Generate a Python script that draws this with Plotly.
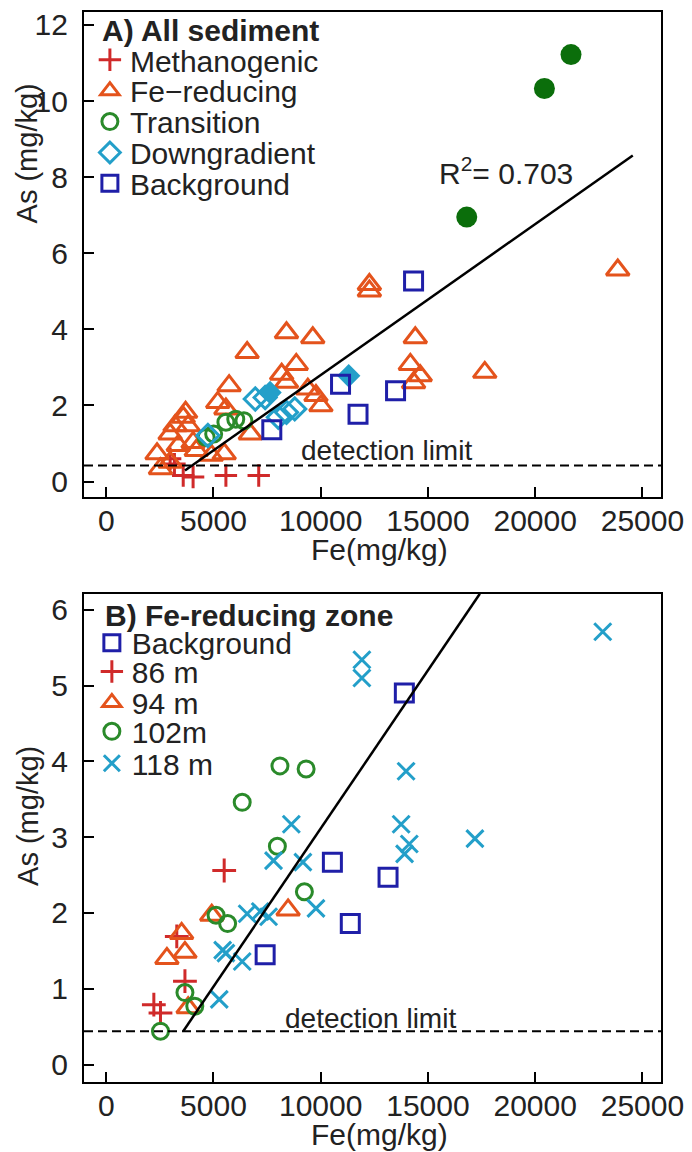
import plotly.graph_objects as go

# ---------------- Panel A: All sediment ----------------
meth_fe = [2980, 3180, 3590, 4050, 5580, 7110]
meth_as = [0.60, 0.46, 0.16, 0.12, 0.16, 0.16]

fered_fe = [12270, 12270, 14410, 14180, 14640, 14330, 17650, 23850, 8405, 9630,
            6570, 8860, 8180, 8405, 9400, 9780, 10010, 5730, 5200, 5580,
            3590, 3210, 3820, 2980, 6720, 2370, 4200, 5500, 2530, 3700,
            4050, 3360, 2980, 4900]
fered_as = [5.18, 5.01, 3.78, 3.08, 2.78, 2.60, 2.87, 5.56, 3.91, 3.78,
            3.39, 3.08, 2.82, 2.61, 2.43, 2.26, 1.99, 2.52, 2.08, 1.91,
            1.69, 1.47, 1.47, 1.25, 1.25, 0.73, 0.82, 0.73, 0.34, 1.82,
            1.03, 0.95, 0.51, 0.69]

trans_open_fe = [4660, 5010, 5580, 6040, 6420]
trans_open_as = [1.16, 1.25, 1.56, 1.64, 1.60]
trans_fill_fe = [16810, 20430, 21670]
trans_fill_as = [6.95, 10.33, 11.22]

down_open_fe = [4740, 6950, 7410, 8025, 8405, 8790]
down_open_as = [1.21, 2.17, 2.21, 1.69, 1.82, 1.91]
down_fill_fe = [7640, 11306]
down_fill_as = [2.34, 2.78]

bg_a_fe = [14330, 10925, 13490, 11740, 7720]
bg_a_as = [5.27, 2.56, 2.39, 1.77, 1.36]

fit_a_fe = [3670, 24550]
fit_a_as = [0.29, 8.57]
det_limit_a = 0.42
r2_label = "R<sup>2</sup>= 0.703"

# ---------------- Panel B: Fe-reducing zone ----------------
bg_b_fe = [13900, 10545, 13140, 11380, 7410]
bg_b_as = [4.90, 2.67, 2.47, 1.86, 1.45]

m86_fe = [5500, 3290, 3670, 2220, 2530]
m86_as = [2.56, 1.69, 1.10, 0.79, 0.68]

m94_fe = [4920, 8480, 3515, 2830, 3670, 3820]
m94_as = [1.97, 2.04, 1.73, 1.40, 1.48, 0.75]

m102_fe = [8100, 9320, 6340, 7980, 9240, 5120, 5660, 3670, 4130, 2530]
m102_as = [3.94, 3.90, 3.46, 2.88, 2.28, 1.97, 1.86, 0.95, 0.77, 0.44]

m118_fe = [8630, 7800, 9170, 7180, 7570, 9780, 6570, 5430, 5580, 6340, 5270,
           23150, 11920, 11920, 13980, 13750, 14130, 13910, 17190]
m118_as = [3.17, 2.69, 2.67, 2.02, 1.95, 2.06, 1.99, 1.51, 1.47, 1.36, 0.86,
           5.71, 5.34, 5.10, 3.87, 3.17, 2.91, 2.78, 2.98]

fit_b_fe = [3590, 17420]
fit_b_as = [0.44, 6.21]
det_limit_b = 0.44

x_ticks = [0, 5000, 10000, 15000, 20000, 25000]
ya_ticks = [0, 2, 4, 6, 8, 10, 12]
yb_ticks = [0, 1, 2, 3, 4, 5, 6]

# ---------------- styles ----------------
RED = "#d02a2a"
ORANGE = "#e4531c"
GREEN = "#2a8a2a"
DKGREEN = "#0b6e0b"
CYAN = "#239fc9"
BLUE = "#1f1fa8"
FONT = "Liberation Sans, Arial, Helvetica, sans-serif"

W, H = 692, 1152
ML, MR, MT, MB = 84, 21, 8, 70
PW = W - ML - MR
PH = H - MT - MB


def px(xp):
    return (xp - ML) / PW


def py(yp):
    return (H - MB - yp) / PH


fig = go.Figure()

leg_a_y = [56, 87, 118, 149, 180]
leg_b_y = [641, 670, 701, 730, 762]


def add(xs, ys, name, symbol, color, size, lw, legend=None, xa="x", ya="y"):
    mk = dict(symbol=symbol, size=size, color=color, line=dict(color=color, width=lw))
    fig.add_trace(go.Scatter(x=xs, y=ys, mode="markers", name=name, marker=mk,
                             xaxis=xa, yaxis=ya, showlegend=legend is not None,
                             legend=legend if legend else "legend", cliponaxis=False))


# Panel A
add(meth_fe, meth_as, "Methanogenic", "cross-thin", RED, 16, 3, "legend")
add(fered_fe, fered_as, "Fe\u2212reducing", "triangle-up-open", ORANGE, 20, 3, "legend2")
add(trans_open_fe, trans_open_as, "Transition", "circle-open", GREEN, 16, 3, "legend3")
add(trans_fill_fe, trans_fill_as, "Transition filled", "circle", DKGREEN, 21, 0, None)
add(down_open_fe, down_open_as, "Downgradient", "diamond-open", CYAN, 17, 3, "legend4")
add(down_fill_fe, down_fill_as, "Downgradient filled", "diamond", CYAN, 18, 0, None)
add(bg_a_fe, bg_a_as, "Background", "square-open", BLUE, 18, 3, "legend5")
fig.add_trace(go.Scatter(x=fit_a_fe, y=fit_a_as, mode="lines", line=dict(color="black", width=2.5),
                         showlegend=False, xaxis="x", yaxis="y"))

# Panel B
add(bg_b_fe, bg_b_as, "Background", "square-open", BLUE, 18, 3, "legend6", "x2", "y2")
add(m86_fe, m86_as, "86 m", "cross-thin", RED, 17, 3, "legend7", "x2", "y2")
add(m94_fe, m94_as, "94 m", "triangle-up-open", ORANGE, 20, 3, "legend8", "x2", "y2")
add(m102_fe, m102_as, "102m", "circle-open", GREEN, 16, 3, "legend9", "x2", "y2")
add(m118_fe, m118_as, "118 m", "x-thin", CYAN, 17, 3, "legend10", "x2", "y2")
fig.add_trace(go.Scatter(x=fit_b_fe, y=fit_b_as, mode="lines", line=dict(color="black", width=2.5),
                         showlegend=False, xaxis="x2", yaxis="y2"))

axis_common = dict(showgrid=False, zeroline=False, showline=True, linecolor="black", linewidth=2.2,
                   mirror=True, ticks="inside", ticklen=10, tickwidth=2, tickcolor="black",
                   tickfont=dict(size=30, color="#222", family=FONT))
xr = [-1036, 25866]
top_a = 1.0
bot_a = py(495)
top_b = py(592)

layout = dict(
    width=W, height=H, margin=dict(l=ML, r=MR, t=MT, b=MB),
    plot_bgcolor="white", paper_bgcolor="white",
    font=dict(family=FONT, size=30, color="#222"),
    xaxis=dict(domain=[0, 1], range=xr, anchor="y", tickvals=x_ticks, tickformat="d",
               ticklabelstandoff=-4, ticklabeloverflow="allow", **axis_common),
    yaxis=dict(domain=[bot_a, top_a], range=[-0.41, 12.34], anchor="x", tickvals=ya_ticks,
               ticklabelstandoff=8, **axis_common),
    xaxis2=dict(domain=[0, 1], range=xr, anchor="y2", tickvals=x_ticks, tickformat="d",
                ticklabelstandoff=-4, ticklabeloverflow="allow", **axis_common),
    yaxis2=dict(domain=[0, top_b], range=[-0.23, 6.21], anchor="x2", tickvals=yb_ticks,
                ticklabelstandoff=8, **axis_common),
)

legend_names = ["legend", "legend2", "legend3", "legend4", "legend5",
                "legend6", "legend7", "legend8", "legend9", "legend10"]
leg_pos = [(90, yy) for yy in leg_a_y] + [(92, yy) for yy in leg_b_y]
for name, (lx, ly) in zip(legend_names, leg_pos):
    layout[name] = dict(x=px(lx), y=py(ly), xanchor="left", yanchor="middle",
                        bgcolor="rgba(0,0,0,0)", borderwidth=0,
                        font=dict(size=30, family=FONT, color="#222"),
                        itemwidth=30, tracegroupgap=0)
fig.update_layout(**layout)

# detection limit lines
fig.add_shape(type="line", xref="x domain", x0=0, x1=1, yref="y", y0=det_limit_a, y1=det_limit_a,
              line=dict(color="black", width=2, dash="9px,5px"))
fig.add_shape(type="line", xref="x2 domain", x0=0, x1=1, yref="y2", y0=det_limit_b, y1=det_limit_b,
              line=dict(color="black", width=2, dash="9px,5px"))

ann = []
ann.append(dict(text="<b>A) All sediment</b>", xref="paper", yref="paper", x=px(100), y=py(27),
                xanchor="left", yanchor="middle", showarrow=False, font=dict(size=30)))
ann.append(dict(text="<b>B) Fe-reducing zone</b>", xref="paper", yref="paper", x=px(103), y=py(614),
                xanchor="left", yanchor="middle", showarrow=False, font=dict(size=30)))
ann.append(dict(text=r2_label, xref="x", yref="y", x=15420, y=8.15, xanchor="left", yanchor="middle",
                showarrow=False, font=dict(size=30)))
ann.append(dict(text="detection limit", xref="x", yref="y", x=9000, y=det_limit_a + 0.4,
                xanchor="left", yanchor="middle", showarrow=False, font=dict(size=28)))
ann.append(dict(text="detection limit", xref="x2", yref="y2", x=8260, y=det_limit_b + 0.17,
                xanchor="left", yanchor="middle", showarrow=False, font=dict(size=28)))
ann.append(dict(text="As (mg/kg)", xref="paper", yref="paper", x=px(27), y=py(150), textangle=-90,
                xanchor="center", yanchor="middle", showarrow=False, font=dict(size=29)))
ann.append(dict(text="As (mg/kg)", xref="paper", yref="paper", x=px(27), y=py(815), textangle=-90,
                xanchor="center", yanchor="middle", showarrow=False, font=dict(size=29)))
ann.append(dict(text="Fe(mg/kg)", xref="paper", yref="paper", x=px(385), y=py(548),
                xanchor="center", yanchor="middle", showarrow=False, font=dict(size=30)))
ann.append(dict(text="Fe(mg/kg)", xref="paper", yref="paper", x=px(385), y=py(1135),
                xanchor="center", yanchor="middle", showarrow=False, font=dict(size=30)))
fig.update_layout(annotations=ann)

fig.write_html("out.html")
